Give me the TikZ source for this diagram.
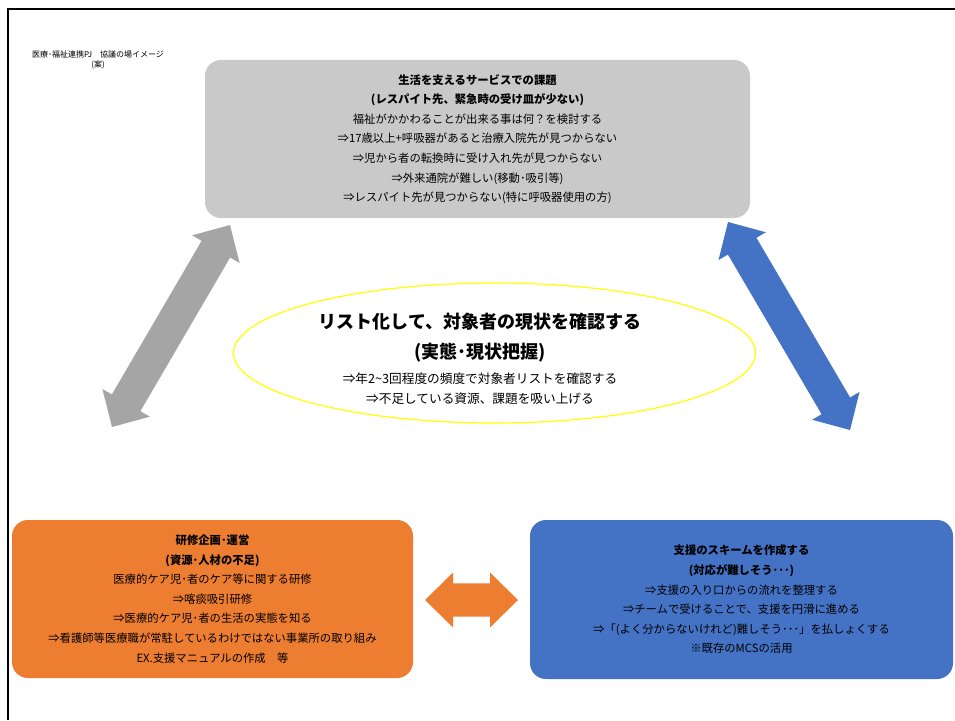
\documentclass[tikz,border=0pt]{standalone}
\usepackage{fontspec}
\setmainfont{Noto Sans CJK JP}
\usetikzlibrary{calc,shapes.geometric}
\definecolor{boxgray}{HTML}{C9C9C9}
\definecolor{arrgray}{HTML}{A5A5A5}
\definecolor{offblue}{HTML}{4472C4}
\definecolor{offorange}{HTML}{ED7D31}
\definecolor{ellyellow}{HTML}{FFFF00}
\newcommand\dblarrow[3]{%
  \coordinate (#2h) at ($(#2)!21pt!(#3)$);
  \coordinate (#3h) at ($(#3)!21pt!(#2)$);
  \fill[#1] (#2) -- ($(#2h)!20.6pt!90:(#3)$) -- ($(#2h)!12.4pt!90:(#3)$)
    -- ($(#3h)!12.4pt!-90:(#2)$) -- ($(#3h)!20.6pt!-90:(#2)$) -- (#3)
    -- ($(#3h)!20.6pt!90:(#2)$) -- ($(#3h)!12.4pt!90:(#2)$)
    -- ($(#2h)!12.4pt!-90:(#3)$) -- ($(#2h)!20.6pt!-90:(#3)$) -- cycle;}
\tikzset{
  infobox/.style={rounded corners=12pt, inner sep=0pt, align=center,
    font=\fontsize{8.5}{14.7}\selectfont, text=black},
}
\begin{document}
\begin{tikzpicture}[x=0.75pt,y=-0.75pt]
\useasboundingbox (0,0) rectangle (955,720);
\fill[white] (0,0) rectangle (955,720);
% frame
\draw[line width=1.9pt] (8,720) -- (8,9) -- (955,9);
% heading
\node[font=\fontsize{6}{7.5}\selectfont, align=center] (head) at (98,60)
  {医療･福祉連携PJ　協議の場イメージ\\(案)};
% top box
\node[infobox, fill=boxgray, minimum width=408.75pt, minimum height=118.5pt] (top) at (477.5,139)
  {{\bfseries 生活を支えるサービスでの課題}\\
   {\bfseries (レスパイト先、緊急時の受け皿が少ない)}\\
   福祉がかかわることが出来る事は何？を検討する\\
   ⇒17歳以上+呼吸器があると治療入院先が見つからない\\
   ⇒児から者の転換時に受け入れ先が見つからない\\
   ⇒外来通院が難しい(移動･吸引等)\\
   ⇒レスパイト先が見つからない(特に呼吸器使用の方)};
% bottom left
\node[infobox, fill=offorange, minimum width=300.75pt, minimum height=118.5pt] (train) at (212.5,599)
  {{\bfseries 研修企画･運営}\\
   {\bfseries (資源･人材の不足)}\\
   医療的ケア児･者のケア等に関する研修\\
   ⇒喀痰吸引研修\\
   ⇒医療的ケア児･者の生活の実態を知る\\
   ⇒看護師等医療職が常駐しているわけではない事業所の取り組み\\
   EX.支援マニュアルの作成　等};
% bottom right
\node[infobox, fill=offblue, minimum width=317.25pt, minimum height=119.25pt] (scheme) at (741.5,599.5)
  {{\bfseries 支援のスキームを作成する}\\
   {\bfseries (対応が難しそう･･･)}\\
   ⇒支援の入り口からの流れを整理する\\
   ⇒チームで受けることで、支援を円滑に進める\\
   ⇒「(よく分からないけれど)難しそう･･･」を払しょくする\\
   ※既存のMCSの活用};
% ellipse
\node[ellipse, draw=ellyellow, line width=0.9pt, minimum width=391.5pt, minimum height=105pt] (ell) at (494.5,353) {};
\node[font=\fontsize{13.5}{22.5}\selectfont\bfseries, align=center] (elltitle) at (480,338)
  {リスト化して、対象者の現状を確認する\\(実態･現状把握)};
\node[font=\fontsize{9.5}{15}\selectfont, align=center] (elltext) at (480,389)
  {⇒年2\textasciitilde3回程度の頻度で対象者リストを確認する\\⇒不足している資源、課題を吸い上げる};
% arrows
\coordinate (ga) at (112,427); \coordinate (gb) at (230,225);
\dblarrow{arrgray}{ga}{gb}
\coordinate (ba) at (728,222); \coordinate (bb) at (850,430);
\dblarrow{offblue}{ba}{bb}
\coordinate (oa) at (425,600); \coordinate (ob) at (518,600);
\dblarrow{offorange}{oa}{ob}
\end{tikzpicture}
\end{document}
